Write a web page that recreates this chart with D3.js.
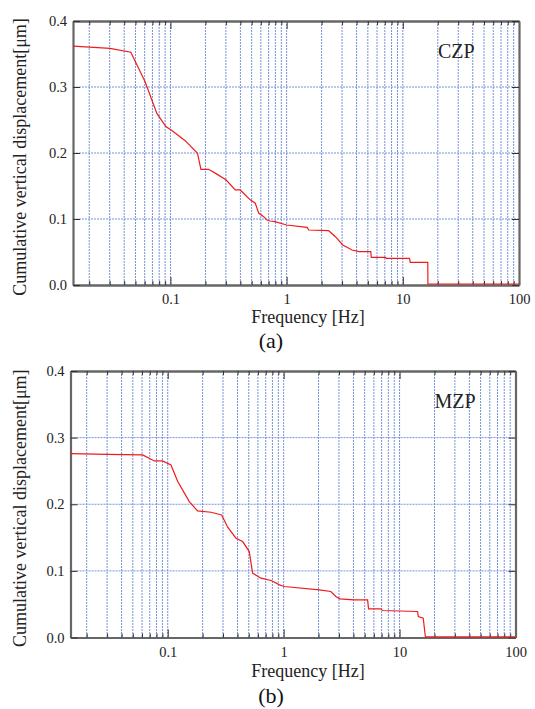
<!DOCTYPE html>
<html>
<head>
<meta charset="utf-8">
<script src="https://cdn.jsdelivr.net/npm/d3@7"></script>
<style>
  body { margin: 0; background: #fff; }
  svg { display: block; }
  svg text { font-family: "Liberation Serif", "DejaVu Serif", serif; }
</style>
</head>
<body>
<div id="chart"></div>
<script>
// values
var xMajorTicks = [0.1, 1, 10, 100];
var xMajorLabels = ["0.1", "1", "10", "100"];
var yTicks = [0, 0.1, 0.2, 0.3, 0.4];
var yTickLabels = ["0.0", "0.1", "0.2", "0.3", "0.4"];
var yGrid = [0.1, 0.2, 0.3];

var czpFreq = [0.0145, 0.0302, 0.0456, 0.0605, 0.0764, 0.0913, 0.1028, 0.134, 0.171, 0.183,
  0.213, 0.251, 0.302, 0.361, 0.398, 0.486, 0.537, 0.574, 0.635, 0.677,
  0.72, 0.794, 1.0, 1.5, 1.55, 2.3, 2.63, 3.04, 3.66, 4.2,
  5.3, 5.35, 7.1, 7.2, 11.4, 11.6, 16.4, 16.45, 100];
var czpDisp = [0.362, 0.3586, 0.3526, 0.308, 0.260, 0.240, 0.234, 0.2187, 0.1995, 0.1753,
  0.1753, 0.168, 0.159, 0.144, 0.144, 0.129, 0.124, 0.109, 0.1035, 0.0985,
  0.097, 0.096, 0.0909, 0.0874, 0.0833, 0.0823, 0.0732, 0.0606, 0.053, 0.0505,
  0.0505, 0.042, 0.042, 0.0404, 0.0404, 0.0344, 0.0344, 0.0015, 0.0015];

var mzpFreq = [0.0145, 0.0304, 0.0608, 0.0767, 0.090, 0.1067, 0.122, 0.1535, 0.181, 0.236,
  0.292, 0.329, 0.388, 0.443, 0.505, 0.54, 0.637, 0.78, 0.92, 1.01,
  2.03, 2.55, 2.82, 3.05, 4.06, 5.3, 5.4, 6.9, 7.1, 14.3,
  14.5, 16.0, 16.7, 100];
var mzpDisp = [0.2759, 0.275, 0.274, 0.265, 0.265, 0.259, 0.234, 0.204, 0.19, 0.188,
  0.184, 0.1655, 0.149, 0.144, 0.129, 0.0966, 0.089, 0.0855, 0.079, 0.0765,
  0.0715, 0.069, 0.0615, 0.058, 0.0565, 0.0565, 0.043, 0.043, 0.0405, 0.039,
  0.0315, 0.029, 0.0008, 0.0008];

var W = 535, H = 709;
var svg = d3.select("#chart").append("svg")
    .attr("width", W)
    .attr("height", H);

// minor ticks 2..9 for each decade
var xMinorTicks = [];
[0.01, 0.1, 1, 10].forEach(function (d) {
  for (var k = 2; k <= 9; k++) xMinorTicks.push(d * k);
});
xMinorTicks = xMinorTicks.filter(function (v) { return v >= 0.0145; });

function drawPanel(opt) {
  var x = d3.scaleLog().domain([0.0145, 100]).range([opt.left, opt.right]);
  var y = d3.scaleLinear().domain([0, 0.4]).range([opt.bottom, opt.top]);
  var g = svg.append("g");

  // grid
  var grid = g.append("g")
      .attr("stroke", "#7592da")
      .attr("stroke-width", 1)
      .attr("stroke-dasharray", "2,1");
  grid.selectAll(".vg")
    .data(xMinorTicks.concat([0.1, 1, 10]))
    .enter().append("line")
      .attr("x1", function (d) { return x(d); })
      .attr("x2", function (d) { return x(d); })
      .attr("y1", opt.top)
      .attr("y2", opt.bottom);
  grid.selectAll(".hg")
    .data(yGrid)
    .enter().append("line")
      .attr("x1", opt.left)
      .attr("x2", opt.right)
      .attr("y1", function (d) { return y(d); })
      .attr("y2", function (d) { return y(d); });

  // axes with inward ticks
  function styleAxis(sel) {
    sel.attr("font-family", null);
    sel.selectAll("path").attr("stroke", "#666").attr("stroke-width", 2.2);
    sel.selectAll("line").attr("stroke", "#333").attr("stroke-width", 1);
    sel.selectAll("text").attr("fill", "#222").style("font-size", "14.5px")
       .style("font-family", "'Liberation Serif', serif");
  }
  var fmt = function (d) { return xMajorLabels[xMajorTicks.indexOf(d)]; };

  g.append("g").attr("transform", "translate(0," + opt.bottom + ")")
    .call(d3.axisBottom(x).tickValues(xMajorTicks).tickFormat(fmt).tickSizeInner(-8).tickSizeOuter(0).tickPadding(9))
    .call(styleAxis);
  g.append("g").attr("transform", "translate(0," + opt.bottom + ")")
    .call(d3.axisBottom(x).tickValues(xMinorTicks).tickFormat("").tickSizeInner(-4).tickSizeOuter(0))
    .call(styleAxis);
  g.append("g").attr("transform", "translate(0," + opt.top + ")")
    .call(d3.axisTop(x).tickValues(xMajorTicks).tickFormat("").tickSizeInner(-8).tickSizeOuter(0))
    .call(styleAxis);
  g.append("g").attr("transform", "translate(0," + opt.top + ")")
    .call(d3.axisTop(x).tickValues(xMinorTicks).tickFormat("").tickSizeInner(-4).tickSizeOuter(0))
    .call(styleAxis);
  g.append("g").attr("transform", "translate(" + opt.left + ",0)")
    .call(d3.axisLeft(y).tickValues(yTicks).tickFormat(function (d, i) { return yTickLabels[i]; })
      .tickSizeInner(-7).tickSizeOuter(0).tickPadding(6))
    .call(styleAxis);
  g.append("g").attr("transform", "translate(" + opt.right + ",0)")
    .call(d3.axisRight(y).tickValues(yTicks).tickFormat("").tickSizeInner(-7).tickSizeOuter(0))
    .call(styleAxis);

  // curve
  var pts = opt.freq.map(function (f, i) { return [f, opt.disp[i]]; });
  g.append("path")
    .datum(pts)
    .attr("fill", "none")
    .attr("stroke", "#ee1c1c")
    .attr("stroke-width", 1.2)
    .attr("d", d3.line().x(function (d) { return x(d[0]); }).y(function (d) { return y(d[1]); }));

  // labels
  g.append("text")
    .attr("x", opt.right - 81).attr("y", opt.top + 37)
    .style("font-size", "20px").attr("fill", "#222")
    .text(opt.name);

  g.append("text")
    .attr("transform", "translate(26," + ((opt.top + opt.bottom) / 2 + 4) + ") rotate(-90)")
    .attr("text-anchor", "middle")
    .style("font-size", "18px").attr("fill", "#222")
    .text("Cumulative vertical displacement[\u03bcm]");

  g.append("text")
    .attr("x", 308).attr("y", opt.bottom + opt.xlabOff)
    .attr("text-anchor", "middle")
    .style("font-size", "18px").attr("fill", "#222")
    .text("Frequency [Hz]");

  g.append("text")
    .attr("x", 271).attr("y", opt.bottom + opt.capOff)
    .attr("text-anchor", "middle")
    .style("font-size", "22px").attr("fill", "#111")
    .text(opt.caption);
}

drawPanel({ left: 73, right: 519, top: 21, bottom: 285, freq: czpFreq, disp: czpDisp,
  name: "CZP", caption: "(a)", xlabOff: 37.5, capOff: 63 });
drawPanel({ left: 70.5, right: 515.5, top: 371, bottom: 637.5, freq: mzpFreq, disp: mzpDisp,
  name: "MZP", caption: "(b)", xlabOff: 39, capOff: 65.5 });
</script>
</body>
</html>
